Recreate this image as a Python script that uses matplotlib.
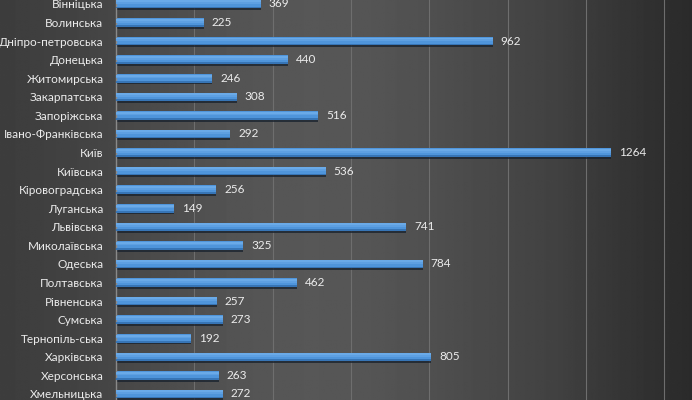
import matplotlib
matplotlib.use("Agg")
import matplotlib.pyplot as plt
import numpy as np

regions = ["Вінніцька", "Волинська", "Дніпро-петровська", "Донецька", "Житомирська",
           "Закарпатська", "Запоріжська", "Івано-Франківська", "Київ", "Київська",
           "Кіровоградська", "Луганська", "Львівська", "Миколаївська", "Одеська",
           "Полтавська", "Рівненська", "Сумська", "Тернопіль-ська", "Харківська",
           "Херсонська", "Хмельницька"]
values = [369, 225, 962, 440, 246, 308, 516, 292, 1264, 536, 256, 149, 741, 325,
          784, 462, 257, 273, 192, 805, 263, 272]
grid_ticks = [0, 200, 400, 600, 800, 1000, 1200, 1400]

plt.rcParams['font.family'] = ['Lato', 'DejaVu Sans']

W, H = 692, 400
fig = plt.figure(figsize=(W / 100, H / 100), dpi=100)

# background gradient
bg = fig.add_axes([0, 0, 1, 1])
xs = np.linspace(0, 1, 400)
prof = 0.22 + 0.12 * np.exp(-((xs - 0.45) / 0.33) ** 2)
prof = prof - 0.06 * np.clip((xs - 0.8) / 0.2, 0, 1)
img = np.tile(prof, (10, 1))
bg.imshow(img, cmap='gray', vmin=0, vmax=1, aspect='auto', extent=[0, 1, 0, 1])
bg.set_axis_off()

left = 116 / W
ax = fig.add_axes([left, 0, 1 - left, 1])
ax.patch.set_alpha(0)

n = len(regions)
y = np.arange(n)
step = 18.57
y0 = (0 - 4) / step
y1 = (400 - 4) / step
ax.set_ylim(y1, y0)
ax.set_xlim(0, (W - 116) / 0.3916)

for g in grid_ticks[1:]:
    ax.axvline(g, color='#6e6e6e', lw=0.8, zorder=0)

bh = 0.46
# shadow
ax.barh(y + 0.1, values, height=bh, color='#17212d', alpha=0.75, zorder=1)
ax.barh(y, values, height=bh, color='#4f95db', zorder=2)
ax.barh(y - bh * 0.3, values, height=bh * 0.25, color='#6aaae8', zorder=3)
ax.barh(y - bh * 0.1, values, height=bh * 0.2, color='#5ea0e2', zorder=3)
ax.barh(y + bh * 0.4, values, height=bh * 0.2, color='#3775b6', zorder=3)

for yi, v in zip(y, values):
    ax.text(v + 20, yi, str(v), va='center', ha='left', color='#ececec', fontsize=8.5)

ax.set_yticks(y)
ax.set_yticklabels(regions, color='#ececec', fontsize=8.5)
ax.tick_params(axis='y', length=0, pad=9)
ax.set_xticks([])
for s in ['top', 'right', 'bottom']:
    ax.spines[s].set_visible(False)
ax.spines['left'].set_color('#8a8a8a')
ax.spines['left'].set_linewidth(1.0)

fig.savefig("out.png", dpi=100)
